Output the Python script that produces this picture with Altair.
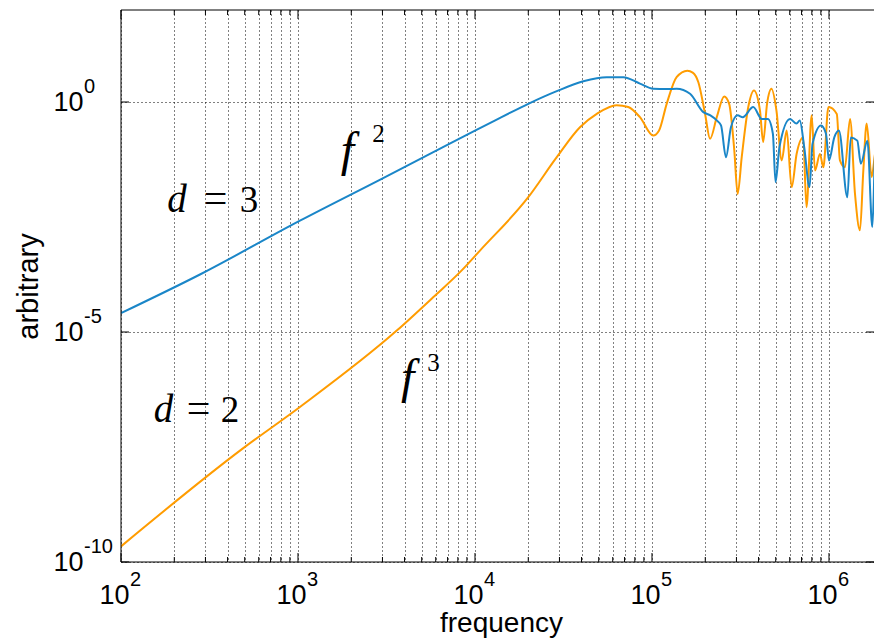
import altair as alt
import pandas as pd

BLUE = "#1a86c8"
ORANGE = "#ff9c00"

# d = 3 curve (blue): log10(frequency), log10(amplitude)
blue_logf = [2.0, 2.446, 3.011, 3.473, 3.8, 4.0, 4.15, 4.301, 4.462, 4.612, 4.744, 4.838,
             4.932, 5.007, 5.08, 5.139, 5.215, 5.29, 5.33, 5.366, 5.39, 5.418, 5.446, 5.484,
             5.513, 5.572, 5.62, 5.655, 5.683, 5.698, 5.72, 5.78, 5.817, 5.835, 5.86, 5.89,
             5.907, 5.955, 5.983, 6.0, 6.03, 6.056, 6.104, 6.123, 6.16, 6.18, 6.217, 6.245,
             6.264, 6.294]
blue_logv = [-4.59, -3.75, -2.58, -1.67, -1.02, -0.62, -0.33, -0.04, 0.235, 0.45, 0.54, 0.54,
             0.40, 0.29, 0.28, 0.29, 0.18, -0.22, -0.29, -0.40, -0.51, -1.2, -0.55, -0.29,
             -0.33, -0.11, -0.37, -0.37, -0.69, -1.74, -0.98, -0.37, -0.47, -0.40, -0.98, -1.85,
             -0.91, -0.51, -0.69, -1.27, -0.77, -0.62, -2.07, -0.77, -0.84, -1.34, -0.84, -2.72,
             -0.84, -0.98]

# d = 2 curve (orange)
orange_logf = [2.0, 2.689, 3.011, 3.558, 3.765, 3.925, 4.028, 4.301, 4.462, 4.593, 4.688, 4.8,
               4.866, 4.932, 5.007, 5.04, 5.083, 5.139, 5.20, 5.23, 5.262, 5.30, 5.328, 5.366,
               5.408, 5.436, 5.465, 5.484, 5.507, 5.544, 5.576, 5.61, 5.628, 5.65, 5.675, 5.703,
               5.733, 5.761, 5.789, 5.817, 5.854, 5.873, 5.902, 5.921, 5.949, 5.968, 5.997, 6.044,
               6.062, 6.09, 6.119, 6.147, 6.175, 6.194, 6.213, 6.241, 6.26, 6.279, 6.30]
orange_logv = [-9.66, -7.53, -6.63, -4.97, -4.24, -3.66, -3.23, -2.07, -1.2, -0.55, -0.26, -0.07,
               -0.11, -0.33, -0.73, -0.62, -0.04, 0.54, 0.68, 0.64, 0.43, -0.26, -0.80, -0.33,
               0.12, -0.04, -1.05, -2.0, -1.2, -0.11, 0.25, -0.18, -0.87, -0.04, 0.29, -0.18,
               -1.27, -0.62, -1.85, -1.13, -0.77, -2.29, -0.29, -1.49, -1.13, -1.42, -0.11, -0.26,
               -1.27, -1.42, -0.37, -2.0, -2.79, -1.49, -0.47, -1.63, -1.13, -0.69, -0.9]

X_MAX = 1796000  # right edge visible in the window

# ticks / labels
major_x = [100, 1000, 10000, 100000, 1000000]
x_exponents = ["2", "3", "4", "5", "6"]
minor_x = [m * 10 ** k for k in range(2, 7) for m in range(2, 10) if m * 10 ** k <= X_MAX]
grid_x = sorted(major_x + minor_x)
major_y = [1e-10, 1e-5, 1.0]
y_exponents = ["-10", "-5", "0"]

# annotations
ital_f = [207, 174, 1905, 4160]
ital_v = [4.0e-3, 1.1e-7, 0.041, 4.7e-7]
ital_t = ["d", "d", "f", "f"]
ital_s = [39, 39, 48, 48]
up_f = [342, 528, 274, 413, 2850, 5830]
up_v = [4.0e-3, 4.0e-3, 1.1e-7, 1.1e-7, 0.132, 1.45e-6]
up_t = ["=", "3", "=", "2", "2", "3"]
up_s = [42, 37, 42, 37, 25, 25]

blue = pd.DataFrame({"f": [10 ** a for a in blue_logf], "v": [10 ** b for b in blue_logv]})
orange = pd.DataFrame({"f": [10 ** a for a in orange_logf], "v": [10 ** b for b in orange_logv]})

W, H = 753, 552
xs = alt.Scale(type="log", domain=[100, X_MAX], nice=False)
ys = alt.Scale(type="log", domain=[1e-10, 1e2], nice=False)
FONT = "Liberation Sans"
SERIF = "Liberation Serif"

xaxis = alt.Axis(
    values=grid_x, grid=True, gridColor="#000000", gridDash=[1, 3], gridWidth=1, gridOpacity=1,
    ticks=False, tickSize=0, domain=False,
    labelExpr="abs(log(datum.value)/LN10 - round(log(datum.value)/LN10)) < 0.001 ? '10' : ''",
    labelFont=FONT, labelFontSize=27, labelColor="black", labelAlign="right",
    labelBaseline="alphabetic", labelOffset=8, labelPadding=41, labelFlush=False,
    labelOverlap=False, labelBound=False,
    title="frequency", titleFont=FONT, titleFontSize=28, titleFontWeight="normal",
    titleColor="black", titleBaseline="alphabetic", titleY=69, titleX=380,
)
yaxis = alt.Axis(
    values=major_y, grid=True, gridColor="#000000", gridDash=[1, 3], gridWidth=1, gridOpacity=1,
    ticks=False, tickSize=0, domain=False,
    labelExpr="'10'", labelFont=FONT, labelFontSize=27, labelColor="black",
    labelAlign="right", labelBaseline="middle", labelPadding=38, labelFlush=False,
    labelOverlap=False, labelBound=False,
    title="arbitrary", titleFont=FONT, titleFontSize=29, titleFontWeight="normal",
    titleColor="black", titleBaseline="alphabetic", titleAngle=270, titleAlign="center",
    titleX=-84, titleY=H / 2,
)


def X():
    return alt.X("f:Q", scale=xs, axis=xaxis, title="frequency")


def Y():
    return alt.Y("v:Q", scale=ys, axis=yaxis, title="arbitrary")


orange_line = alt.Chart(orange).mark_line(color=ORANGE, strokeWidth=2, interpolate="monotone", clip=True).encode(
    x=X(), y=Y())
blue_line = alt.Chart(blue).mark_line(color=BLUE, strokeWidth=2, interpolate="monotone", clip=True).encode(
    x=X(), y=Y())


def xticks(vals, length):
    d = pd.DataFrame({"f": vals})
    bottom = alt.Chart(d).mark_rule(color="black", strokeWidth=1).encode(
        x=X(), y=alt.value(H), y2=alt.value(H - length))
    top = alt.Chart(d).mark_rule(color="black", strokeWidth=1).encode(
        x=X(), y=alt.value(0), y2=alt.value(length))
    return [bottom, top]


def yticks(vals, length):
    d = pd.DataFrame({"v": vals})
    left = alt.Chart(d).mark_rule(color="black", strokeWidth=1).encode(
        y=Y(), x=alt.value(0), x2=alt.value(length))
    right = alt.Chart(d).mark_rule(color="black", strokeWidth=1).encode(
        y=Y(), x=alt.value(W), x2=alt.value(W - length))
    return [left, right]


# box: left, top and bottom edges (the right edge lies just outside the window)
box_top = alt.Chart().mark_rule(color="black", strokeWidth=1).encode(
    x=alt.value(0), x2=alt.value(W), y=alt.value(0))
box_bottom = alt.Chart().mark_rule(color="black", strokeWidth=1).encode(
    x=alt.value(0), x2=alt.value(W), y=alt.value(H))
box_left = alt.Chart().mark_rule(color="black", strokeWidth=1).encode(
    x=alt.value(0), y=alt.value(0), y2=alt.value(H))

x_exp = alt.Chart(pd.DataFrame({"f": major_x, "t": x_exponents})).mark_text(
    font=FONT, fontSize=20, align="left", baseline="alphabetic", dx=9, color="black"
).encode(x=X(), y=alt.value(H + 24), text="t:N")

y_exp = alt.Chart(pd.DataFrame({"v": major_y, "t": y_exponents})).mark_text(
    font=FONT, fontSize=20, align="left", baseline="middle", dy=-15, color="black"
).encode(y=Y(), x=alt.value(-37), text="t:N")

ital = alt.Chart(pd.DataFrame({"f": ital_f, "v": ital_v, "t": ital_t, "s": ital_s})).mark_text(
    font=SERIF, fontStyle="italic", align="center", baseline="alphabetic", color="black"
).encode(x=X(), y=Y(), text="t:N", size=alt.Size("s:Q", scale=None, legend=None))

upright = alt.Chart(pd.DataFrame({"f": up_f, "v": up_v, "t": up_t, "s": up_s})).mark_text(
    font=SERIF, align="center", baseline="alphabetic", color="black"
).encode(x=X(), y=Y(), text="t:N", size=alt.Size("s:Q", scale=None, legend=None))

layers = [orange_line, blue_line] + xticks(major_x, 9) + xticks(minor_x, 5) + yticks(major_y, 8) + [
    box_top, box_bottom, box_left, x_exp, y_exp, ital, upright]

chart = alt.layer(*layers).properties(
    width=W, height=H,
    padding={"left": 113, "top": 2, "right": 0, "bottom": 76},
    autosize=alt.AutoSizeParams(type="none"),
    background="white",
).configure_view(stroke=None)

chart.save("out.html", embed_options={"renderer": "svg", "actions": False})
